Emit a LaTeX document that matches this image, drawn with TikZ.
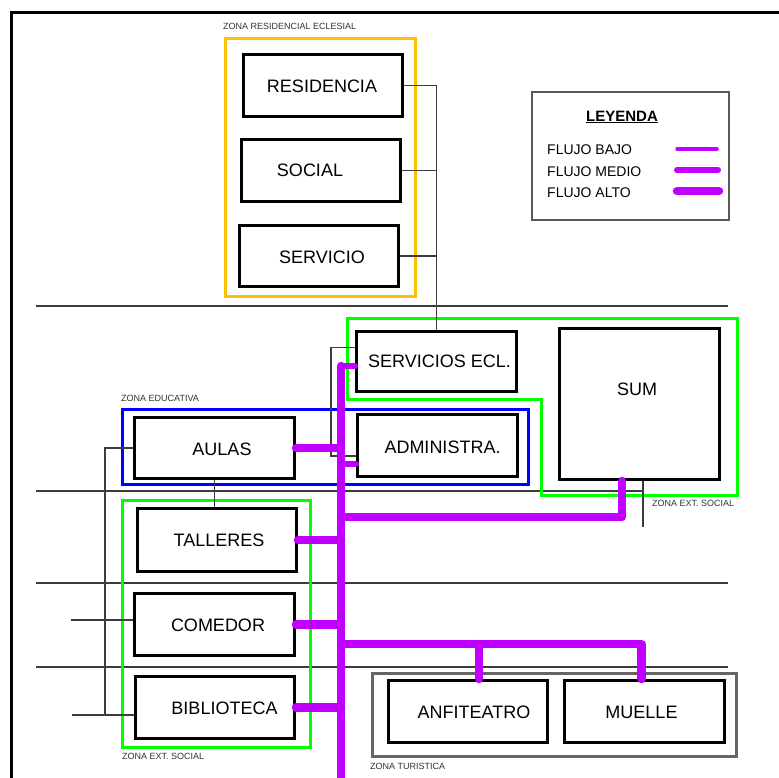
\documentclass[tikz,border=0pt]{standalone}
\usepackage{fontspec}
\setmainfont{Liberation Sans}
\usetikzlibrary{calc}
\definecolor{flow}{RGB}{191,0,255}
\definecolor{zorange}{RGB}{255,192,0}
\definecolor{zgreen}{RGB}{0,255,0}
\definecolor{zblue}{RGB}{0,0,255}
\definecolor{zgray}{RGB}{102,102,102}
\definecolor{thinc}{RGB}{60,60,60}
\begin{document}
\begin{tikzpicture}[x=1pt,y=-1pt,
  box/.style={draw=black,line width=3pt,inner sep=0pt},
  boxtext/.style={font=\fontsize{18}{20}\selectfont,inner sep=0pt},
  zone/.style={line width=3pt},
  zonelabel/.style={font=\fontsize{9}{10}\selectfont,text=black!80,inner sep=0pt,anchor=west},
  legtext/.style={font=\fontsize{14}{16}\selectfont,inner sep=0pt,anchor=west},
  thinline/.style={draw=thinc,line width=1.1pt},
  flowh/.style={draw=flow,line width=8.5pt,line cap=round,line join=round},
  flowm/.style={draw=flow,line width=6pt,line cap=round,line join=round},
  flowl/.style={draw=flow,line width=3.5pt,line cap=round}]
\useasboundingbox[fill=white] (0,0) rectangle (779,777);

% frame
\draw[line width=3pt] (11,780) -- (11,12) -- (782,12);

% horizontal separators
\draw[thinline] (36,306) -- (728,306);
\draw[thinline] (36,491) -- (643,491);
\draw[thinline] (36,583) -- (728,583);
\draw[thinline] (36,667) -- (728,667);

% zones
\draw[zone,draw=zorange] (225,38) rectangle (415,296);
\draw[zone,draw=zgreen] (347,318) -- (737,318) -- (737,495) -- (541,495) -- (541,399) -- (347,399) -- cycle;
\draw[zone,draw=zblue] (122,409) rectangle (528,484);
\draw[zone,draw=zgreen] (122,500) rectangle (310,747);
\draw[zone,draw=zgray] (372,673) rectangle (736,756);

\node[zonelabel] (zl1) at (223,26) {ZONA RESIDENCIAL ECLESIAL};
\node[zonelabel] (zl2) at (121,398) {ZONA EDUCATIVA};
\node[zonelabel] (zl3) at (652,503) {ZONA EXT. SOCIAL};
\node[zonelabel] (zl4) at (122,756) {ZONA EXT. SOCIAL};
\node[zonelabel] (zl5) at (370,766) {ZONA TURISTICA};

% boxes
\node[box,minimum width=159pt,minimum height=62pt] (resid) at (323,85.5) {};
\node[box,minimum width=159pt,minimum height=62pt] (social) at (321,170.5) {};
\node[box,minimum width=159pt,minimum height=61pt] (servicio) at (319,256) {};
\node[box,minimum width=160pt,minimum height=60pt] (servecl) at (436.5,361.5) {};
\node[box,minimum width=160pt,minimum height=151pt] (sum) at (639.5,404) {};
\node[box,minimum width=160pt,minimum height=61pt] (aulas) at (214.5,448) {};
\node[box,minimum width=160pt,minimum height=62pt] (admin) at (437.5,445.5) {};
\node[box,minimum width=159pt,minimum height=63pt] (talleres) at (217,540) {};
\node[box,minimum width=160pt,minimum height=62pt] (comedor) at (214.5,624.5) {};
\node[box,minimum width=159pt,minimum height=62pt] (bibl) at (215,707.5) {};
\node[box,minimum width=159pt,minimum height=62pt] (anf) at (468,711.5) {};
\node[box,minimum width=160pt,minimum height=62pt] (muelle) at (644.5,711.5) {};

% box texts
\node[boxtext] (residt) at (322,86) {RESIDENCIA};
\node[boxtext] (socialt) at (310,170) {SOCIAL};
\node[boxtext] (serviciot) at (322,257) {SERVICIO};
\node[boxtext] (serveclt) at (439.5,361) {SERVICIOS ECL.};
\node[boxtext] (sumt) at (637,389) {SUM};
\node[boxtext] (aulast) at (222,449) {AULAS};
\node[boxtext] (admint) at (442.5,447) {ADMINISTRA.};
\node[boxtext] (tallerest) at (219,540) {TALLERES};
\node[boxtext] (comedort) at (218,625) {COMEDOR};
\node[boxtext] (biblt) at (224.5,708) {BIBLIOTECA};
\node[boxtext] (anft) at (474,712.5) {ANFITEATRO};
\node[boxtext] (muellet) at (641.5,712.5) {MUELLE};

% thin connectors
\draw[thinline] (resid.east) -| (servecl.north);
\draw[thinline] (social.east) -- (social.east -| servecl.north);
\draw[thinline] (servicio.east) -- (servicio.east -| servecl.north);
\draw[thinline] ($(servecl.west)+(0,-14)$) -| ($(admin.west)+(-25,10.5)$) -- ($(admin.west)+(0,10.5)$);
\draw[thinline] (aulas.south) -- (aulas.south |- talleres.north);
\coordinate (lb) at (105,715);
\coordinate (cstub) at (71,620);
\coordinate (bstub) at (72,715);
\draw[thinline] (aulas.west) -| (lb);
\draw[thinline] (cstub) -- (cstub -| comedor.west);
\draw[thinline] (bstub) -- (bstub -| bibl.west);
\draw[thinline] ($(sum.south)+(3.5,0)$) -- ++(0,46);

% flows
\coordinate (spt) at (341,366);
\coordinate (spb) at (341,785);
\draw[flowh] (spt) -- (spb);
\draw[flowm] ($(servecl.west)+(0,4.5)$) -- (spt);
\draw[flowh] (aulas.east) -- (aulas.east -| spt);
\draw[flowm] ($(admin.west)+(0,18.5)$) -- ($(admin.west)+(-15,18.5)$);
\draw[flowh] (talleres.east) -- (talleres.east -| spt);
\draw[flowh] (comedor.east) -- (comedor.east -| spt);
\draw[flowh] (bibl.east) -- (bibl.east -| spt);
\draw[flowh] ($(sum.south)+(-17.5,0)$) |- ($(spt)+(0,151)$);
\draw[flowh] ($(spt)+(0,278)$) -| ($(muelle.north)+(-3,0)$);
\draw[flowh] ($(anf.north)+(11,0)$) -- ++(0,-35);

% legend
\draw[draw=black!65,line width=1.5pt] (532,92) rectangle (729,220);
\node[font=\fontsize{15}{17}\selectfont\bfseries,inner sep=0pt] (leg) at (622,117) {\underline{LEYENDA}};
\node[legtext] (l1) at (547,150) {FLUJO BAJO};
\node[legtext] (l2) at (547,172) {FLUJO MEDIO};
\node[legtext] (l3) at (547,193) {FLUJO ALTO};
\draw[flowl] (677,149) -- (717,149);
\draw[flowm] (677,170) -- (718,170);
\draw[flowh] (677,191) -- (719,191);
\end{tikzpicture}
\end{document}
